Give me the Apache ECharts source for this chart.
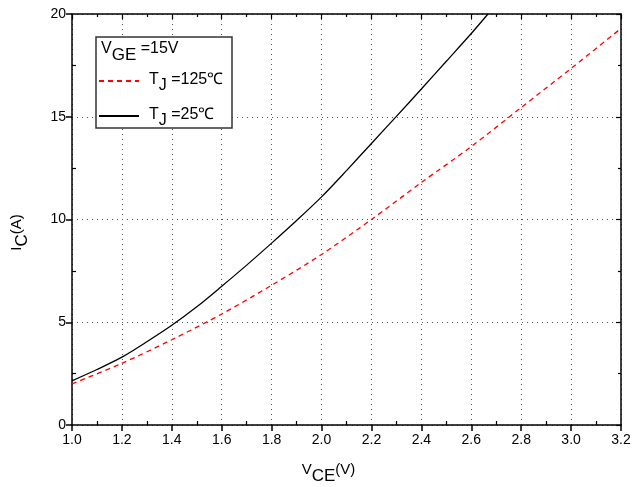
<!DOCTYPE html>
<html><head><meta charset="utf-8">
<script src="https://cdn.jsdelivr.net/npm/echarts@6/dist/echarts.min.js"></script>
<style>html,body{margin:0;padding:0;background:#fff}#c{width:642px;height:487px}</style>
</head><body><div id="c"></div>
<script>
// T_J = 25 °C (solid black)
const vce25 = [1.0, 1.1, 1.2, 1.3, 1.4, 1.5, 1.6, 1.7, 1.8, 1.9, 2.0, 2.1, 2.2, 2.3, 2.4, 2.5, 2.6, 2.667];
const ic25  = [2.15, 2.7, 3.3, 4.05, 4.85, 5.75, 6.75, 7.78, 8.85, 9.95, 11.1, 12.38, 13.7, 15.02, 16.35, 17.7, 19.05, 20.0];
// T_J = 125 °C (dashed red)
const vce125 = [1.0, 1.2, 1.4, 1.6, 1.8, 2.0, 2.2, 2.4, 2.6, 2.8, 3.0, 3.2];
const ic125  = [2.0, 3.0, 4.15, 5.4, 6.8, 8.3, 10.0, 11.8, 13.55, 15.45, 17.35, 19.3];
const xTicks = {min: 1.0, max: 3.2, interval: 0.2};
const yTicks = {min: 0, max: 20, interval: 5};

const FONT = '"Liberation Sans", Arial, sans-serif';
const chart = echarts.init(document.getElementById('c'), null, {renderer: 'canvas'});
const pair = (xs, ys) => xs.map((x, i) => [x, ys[i]]);

const subRich = (main, sub, off) => ({
  a: {fontSize: main, fontFamily: FONT, color: '#000', lineHeight: main + 2, verticalAlign: 'top'},
  s: {fontSize: sub, fontFamily: FONT, color: '#000', lineHeight: sub + 2, verticalAlign: 'top', padding: [off, 0, 0, 0]}
});

const baseAxis = {
  type: 'value', splitLine: {show: false}, axisLabel: {show: false}, axisTick: {show: false},
  axisLine: {show: false}, minorTick: {show: false}
};
const option = {
  animation: false,
  backgroundColor: '#fff',
  grid: {left: 72, right: 21, top: 14, bottom: 62, outerBoundsMode: 'none', containLabel: false},
  xAxis: [
    {
      type: 'value', position: 'bottom', min: xTicks.min, max: xTicks.max, interval: xTicks.interval,
      axisLine: {show: true, onZero: false, lineStyle: {color: '#000', width: 1.5}},
      axisTick: {show: true, inside: false, length: 6, lineStyle: {color: '#000', width: 1.5}},
      axisLabel: {color: '#000', fontSize: 14, fontFamily: FONT, margin: 8, formatter: v => v.toFixed(1)},
      splitLine: {show: true, lineStyle: {color: '#555', type: [1, 4], width: 1}},
      name: '{a|V}{s|CE}{a|(V)}', nameLocation: 'middle', nameGap: 37,
      nameTextStyle: {padding: [0, 36, 0, 0], rich: subRich(15, 17, 6)}
    },
    Object.assign({}, baseAxis, {
      position: 'bottom', min: xTicks.min, max: xTicks.max, interval: xTicks.interval,
      axisTick: {show: false, inside: true},
      minorTick: {show: true, splitNumber: 2, length: 4, lineStyle: {color: '#000', width: 1.2}}
    }),
    Object.assign({}, baseAxis, {
      position: 'top', min: xTicks.min, max: xTicks.max, interval: xTicks.interval,
      axisLine: {show: true, onZero: false, lineStyle: {color: '#000', width: 1.5}},
      axisTick: {show: true, inside: true, length: 5, lineStyle: {color: '#000', width: 1.2}},
      minorTick: {show: true, splitNumber: 2, length: 3, lineStyle: {color: '#000', width: 1.2}}
    })
  ],
  yAxis: [
    {
      type: 'value', position: 'left', min: yTicks.min, max: yTicks.max, interval: yTicks.interval,
      axisLine: {show: true, onZero: false, lineStyle: {color: '#000', width: 1.5}},
      axisTick: {show: true, inside: false, length: 6, lineStyle: {color: '#000', width: 1.5}},
      axisLabel: {color: '#000', fontSize: 14, fontFamily: FONT, margin: 6},
      splitLine: {show: true, lineStyle: {color: '#555', type: [1, 4], width: 1}},
      name: '{a|I}{s|C}{a|(A)}', nameLocation: 'middle', nameGap: 44, nameRotate: 90,
      nameTextStyle: {padding: [0, 26, 0, 0], rich: subRich(15, 17, 5)}
    },
    Object.assign({}, baseAxis, {
      position: 'left', min: yTicks.min, max: yTicks.max, interval: yTicks.interval,
      axisTick: {show: false, inside: true},
      minorTick: {show: true, splitNumber: 2, length: 4, lineStyle: {color: '#000', width: 1.2}}
    }),
    Object.assign({}, baseAxis, {
      position: 'right', min: yTicks.min, max: yTicks.max, interval: yTicks.interval,
      axisLine: {show: true, onZero: false, lineStyle: {color: '#000', width: 1.5}},
      axisTick: {show: true, inside: true, length: 5, lineStyle: {color: '#000', width: 1.2}},
      minorTick: {show: true, splitNumber: 2, length: 3, lineStyle: {color: '#000', width: 1.2}}
    })
  ],
  legend: {
    orient: 'vertical', left: 98, top: 72, itemWidth: 40, itemHeight: 14, itemGap: 13, z: 10,
    padding: 0,
    itemStyle: {opacity: 0},
    data: ['T125', 'T25'],
    formatter: n => n === 'T125' ? '{p|}{a|T}{s|J}{a| =125℃}' : '{p|}{a|T}{s|J}{a| =25℃}',
    textStyle: {
      rich: Object.assign(subRich(16, 16, 6), {p: {width: 5, lineHeight: 18}})
    }
  },
  graphic: [
    {type: 'rect', z: 9, shape: {x: 96, y: 37, width: 136, height: 91},
     style: {fill: '#fff', stroke: '#333', lineWidth: 1.5}},
    {type: 'text', z: 10, x: 101, y: 41,
     style: {
       text: '{a|V}{s|GE}{a| =15V}',
       rich: {
         a: {fontSize: 16, fontFamily: FONT, fill: '#000', lineHeight: 18, verticalAlign: 'top'},
         s: {fontSize: 17, fontFamily: FONT, fill: '#000', lineHeight: 19, verticalAlign: 'top', padding: [6, 0, 0, 0]}
       }
     }}
  ],
  series: [
    {name: 'T125', type: 'line', xAxisIndex: 0, yAxisIndex: 0, smooth: 0.3, symbol: 'none',
     data: pair(vce125, ic125), lineStyle: {color: '#ff0000', width: 1.3, type: [5, 4]}, itemStyle: {color: '#ff0000'}, z: 3},
    {name: 'T25', type: 'line', xAxisIndex: 0, yAxisIndex: 0, smooth: 0.3, symbol: 'none',
     data: pair(vce25, ic25), lineStyle: {color: '#000', width: 1.3, type: 'solid'}, itemStyle: {color: '#000'}, z: 3}
  ]
};
chart.setOption(option);
</script>
</body></html>
